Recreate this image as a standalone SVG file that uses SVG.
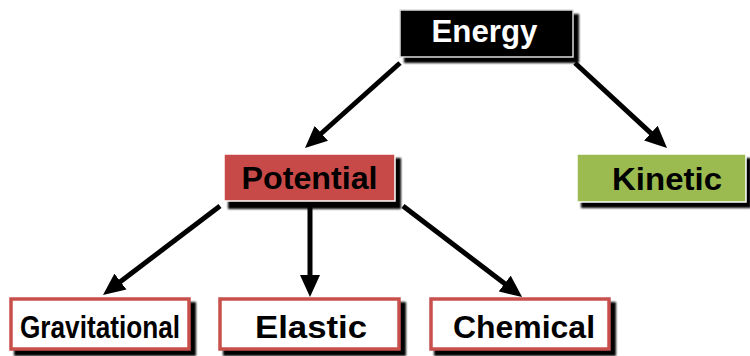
<svg xmlns="http://www.w3.org/2000/svg" width="750" height="356" viewBox="0 0 750 356">
<defs>
<style>
.shadow{fill:#000;}
.lbl{font-family:"Liberation Sans",Arial,sans-serif;font-weight:bold;font-size:32px;text-anchor:middle;}
.conn line{stroke:#000;stroke-width:5;fill:none;}
.leaf{fill:#fff;stroke:#c8504c;stroke-width:3.5;}
</style>
<filter id="blur" x="-10%" y="-10%" width="130%" height="140%"><feGaussianBlur stdDeviation="0.8"/></filter>
<marker id="ah" viewBox="0 0 22 20" refX="4" refY="10" markerWidth="22" markerHeight="20" markerUnits="userSpaceOnUse" orient="auto">
<path d="M0,0 L22,10 L0,20 z" fill="#000"/>
</marker>
</defs>
<rect width="750" height="356" fill="#fff"/>
<g id="connectors" class="conn">
<line x1="400" y1="63" x2="318.4" y2="136" marker-end="url(#ah)"/>
<line x1="575" y1="63" x2="653.8" y2="135.8" marker-end="url(#ah)"/>
<line x1="220" y1="206" x2="117.3" y2="284" marker-end="url(#ah)"/>
<line x1="403" y1="206" x2="507.8" y2="286" marker-end="url(#ah)"/>
<line x1="310" y1="206" x2="310" y2="279" marker-end="url(#ah)"/>
</g>
<g id="energy">
<rect class="shadow" x="404" y="14" width="175" height="49" filter="url(#blur)"/>
<rect x="400" y="10" width="173" height="47" fill="#000" stroke="#ddd" stroke-width="1.5"/>
<text class="lbl" x="484.5" y="42" fill="#fff" textLength="106" lengthAdjust="spacingAndGlyphs">Energy</text>
</g>
<g id="potential">
<rect class="shadow" x="228" y="158" width="173" height="51" filter="url(#blur)"/>
<rect x="224" y="154" width="171" height="47" fill="#c84a48" stroke="#fff" stroke-width="1.5"/>
<text class="lbl" x="309.5" y="189" fill="#000" textLength="136" lengthAdjust="spacingAndGlyphs">Potential</text>
</g>
<g id="kinetic">
<rect class="shadow" x="581" y="158" width="170" height="50" filter="url(#blur)"/>
<rect x="577" y="154" width="169" height="48" fill="#9bbb50" stroke="#fff" stroke-width="1.5"/>
<text class="lbl" x="667" y="190" fill="#000" textLength="110" lengthAdjust="spacingAndGlyphs">Kinetic</text>
</g>
<g id="gravitational">
<rect class="shadow" x="14" y="302" width="182" height="54" filter="url(#blur)"/>
<rect class="leaf" x="11" y="299" width="178" height="50"/>
<text class="lbl" x="100" y="338" fill="#000" textLength="160" lengthAdjust="spacingAndGlyphs">Gravitational</text>
</g>
<g id="elastic">
<rect class="shadow" x="223" y="302" width="183" height="54" filter="url(#blur)"/>
<rect class="leaf" x="220" y="299" width="179" height="50"/>
<text class="lbl" x="311" y="338" fill="#000" textLength="112" lengthAdjust="spacingAndGlyphs">Elastic</text>
</g>
<g id="chemical">
<rect class="shadow" x="434" y="302" width="182" height="54" filter="url(#blur)"/>
<rect class="leaf" x="431" y="299" width="178" height="50"/>
<text class="lbl" x="524" y="338" fill="#000" textLength="142" lengthAdjust="spacingAndGlyphs">Chemical</text>
</g>
</svg>
